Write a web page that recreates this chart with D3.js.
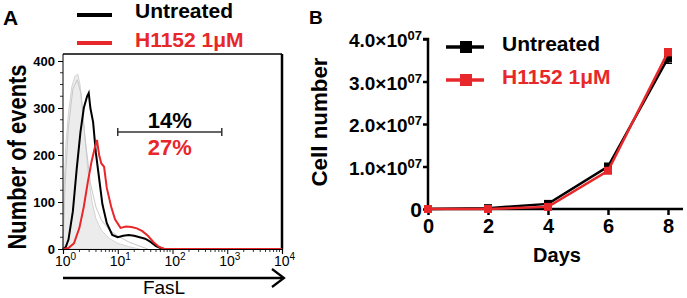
<!DOCTYPE html>
<html>
<head>
<meta charset="utf-8">
<title>FasL and cell number</title>
<script src="https://cdn.jsdelivr.net/npm/d3@7"></script>
<style>
  body { margin: 0; background: #fff; }
  svg { font-family: "Liberation Sans", Arial, sans-serif; font-weight: bold; }
</style>
</head>
<body>
<script>
// ---- panel A data: histogram curves, [log10(FasL), events]
var isoFill = [[0,0],[0.02,130],[0.05,220],[0.1,290],[0.16,345],[0.22,368],[0.27,372],[0.31,350],[0.36,290],[0.42,210],[0.47,150],[0.53,100],[0.6,65],[0.7,40],[0.85,22],[1.0,12],[1.2,5],[1.4,0]];
var isoLine = [[0,0],[0.04,140],[0.1,260],[0.18,340],[0.26,360],[0.33,330],[0.4,240],[0.5,140],[0.6,90],[0.7,62],[0.85,40],[1.0,28],[1.2,15],[1.4,6],[1.55,0]];
var untreatedHist = [[0,0],[0.05,4],[0.1,20],[0.18,80],[0.25,170],[0.32,250],[0.38,300],[0.44,325],[0.47,332],[0.5,300],[0.55,270],[0.6,205],[0.66,150],[0.72,95],[0.8,55],[0.9,30],[1.0,25],[1.1,28],[1.2,30],[1.3,28],[1.4,25],[1.5,22],[1.6,15],[1.7,6],[1.8,1],[1.85,0]];
var h1152Hist = [[0,0],[0.1,2],[0.2,12],[0.3,45],[0.38,90],[0.45,140],[0.52,185],[0.58,215],[0.62,232],[0.66,200],[0.7,182],[0.75,175],[0.8,130],[0.88,90],[0.95,63],[1.05,45],[1.15,48],[1.25,47],[1.35,44],[1.45,38],[1.55,28],[1.65,15],[1.75,5],[1.85,0],[4,0]];
var histYTicks = [0, 100, 200, 300, 400];
var decadeTicks = [0, 1, 2, 3, 4];
var gateRange = [1, 2.9];   // log10 extent of the marker gate
var gatePct = ["14%", "27%"];

// ---- panel B data: cell number by day
var days = [0, 2, 4, 6, 8];
var untreatedCells = [0, 0.02e7, 0.12e7, 1.0e7, 3.55e7];
var untreatedErr = [0, 0, 0.03e7, 0.05e7, 0.12e7];
var h1152Cells = [0, 0, 0.05e7, 0.9e7, 3.69e7];
var h1152Err = [0, 0, 0.02e7, 0.06e7, 0.08e7];
var cellTicks = [0, 1e7, 2e7, 3e7, 4e7];
var cellTickLabels = ["0", "1.0\u00d710", "2.0\u00d710", "3.0\u00d710", "4.0\u00d710"];

var red = "#e8272b";
var svg = d3.select("body").append("svg").attr("width", 687).attr("height", 298);

// ================= Panel A =================
var xA = d3.scaleLinear().domain([0, 4]).range([63, 282]);
var yA = d3.scaleLinear().domain([0, 400]).range([249, 61]);

svg.append("text").attr("x", 3).attr("y", 25).attr("font-size", 21).text("A");

// box top / right
svg.append("line").attr("x1", 63).attr("x2", 282).attr("y1", 54).attr("y2", 54)
  .attr("stroke", "#000").attr("stroke-width", 1.5);
svg.append("line").attr("x1", 282).attr("x2", 282).attr("y1", 54).attr("y2", 249)
  .attr("stroke", "#000").attr("stroke-width", 2.5);

var area = d3.area().x(function(d){ return xA(d[0]); }).y0(yA(0)).y1(function(d){ return yA(d[1]); });
var line = d3.line().x(function(d){ return xA(d[0]); }).y(function(d){ return yA(d[1]); });

svg.append("path").attr("d", area(isoFill)).attr("fill", "#ececec").attr("stroke", "#d4d4d4").attr("stroke-width", 1);
svg.append("path").attr("d", line(isoLine)).attr("fill", "none").attr("stroke", "#c8c8c8").attr("stroke-width", 1);
svg.append("path").attr("d", line(untreatedHist)).attr("fill", "none").attr("stroke", "#000").attr("stroke-width", 2);
svg.append("path").attr("d", line(h1152Hist)).attr("fill", "none").attr("stroke", red).attr("stroke-width", 2);

// y axis
var yAxisA = d3.axisLeft(yA).tickValues(histYTicks).tickSize(5).tickPadding(3);
var gy = svg.append("g").attr("transform", "translate(63,0)").call(yAxisA);
gy.selectAll("text").attr("font-size", 13).attr("font-family", "Liberation Sans, Arial").attr("font-weight", "bold");
gy.select(".domain").attr("d", "M0," + yA(415) + "V" + yA(0));
svg.append("g").selectAll("line").data(d3.range(0, 400, 25).filter(function(v){ return v % 100; }))
  .enter().append("line")
  .attr("x1", 60).attr("x2", 63).attr("y1", function(d){ return yA(d); }).attr("y2", function(d){ return yA(d); })
  .attr("stroke", "#000").attr("stroke-width", 0.8);

// x axis (log decades)
var xAxisA = d3.axisBottom(xA).tickValues(decadeTicks).tickSize(5).tickFormat("");
var gx = svg.append("g").attr("transform", "translate(0,249)").call(xAxisA);
gx.select(".domain").attr("stroke-width", 1.2);
var minors = [];
decadeTicks.slice(0, 4).forEach(function(d){ for (var k = 2; k < 10; k++) minors.push(d + Math.log10(k)); });
gx.selectAll(".minor").data(minors).enter().append("line")
  .attr("x1", function(d){ return xA(d); }).attr("x2", function(d){ return xA(d); })
  .attr("y1", 0).attr("y2", 3).attr("stroke", "#000").attr("stroke-width", 0.8);
var dl = svg.append("g").selectAll("text").data(decadeTicks).enter().append("text")
  .attr("x", function(d){ return xA(d) - 8; }).attr("y", 266)
  .attr("font-size", 14).attr("font-weight", "normal");
dl.append("tspan").text("10");
dl.append("tspan").attr("dy", -6).attr("font-size", 10).text(function(d){ return d; });

// arrow
svg.append("line").attr("x1", 63).attr("x2", 282).attr("y1", 278).attr("y2", 278).attr("stroke", "#000").attr("stroke-width", 2.5);
svg.append("path").attr("d", "M272,269L284,278L272,287").attr("fill", "none").attr("stroke", "#000").attr("stroke-width", 2.2);
svg.append("text").attr("x", 164).attr("y", 294).attr("text-anchor", "middle").attr("font-size", 19).attr("font-weight", "normal").text("FasL");

svg.append("text").attr("transform", "translate(26,157) rotate(-90)").attr("text-anchor", "middle")
  .attr("font-size", 25).attr("textLength", 185).attr("lengthAdjust", "spacingAndGlyphs").text("Number of events");

// gate
var gy0 = 132;
svg.append("line").attr("x1", xA(gateRange[0])).attr("x2", xA(gateRange[1])).attr("y1", gy0).attr("y2", gy0).attr("stroke", "#333").attr("stroke-width", 1.5);
gateRange.forEach(function(v){
  svg.append("line").attr("x1", xA(v)).attr("x2", xA(v)).attr("y1", gy0 - 4).attr("y2", gy0 + 4).attr("stroke", "#333").attr("stroke-width", 1.5);
});
var gMid = (xA(gateRange[0]) + xA(gateRange[1])) / 2;
svg.append("text").attr("x", gMid).attr("y", 128).attr("text-anchor", "middle").attr("font-size", 22).text(gatePct[0]);
svg.append("text").attr("x", gMid).attr("y", 155).attr("text-anchor", "middle").attr("font-size", 22).attr("fill", red).text(gatePct[1]);

// legend A
svg.append("line").attr("x1", 77).attr("x2", 112).attr("y1", 15).attr("y2", 15).attr("stroke", "#000").attr("stroke-width", 4);
svg.append("line").attr("x1", 77).attr("x2", 112).attr("y1", 43).attr("y2", 43).attr("stroke", red).attr("stroke-width", 4);
svg.append("text").attr("x", 135).attr("y", 18).attr("font-size", 21).text("Untreated");
svg.append("text").attr("x", 135).attr("y", 47).attr("font-size", 21).attr("fill", red).text("H1152 1\u03bcM");

// ================= Panel B =================
var xB = d3.scaleLinear().domain([0, 8]).range([428, 668]);
var yB = d3.scaleLinear().domain([0, 4e7]).range([209, 39]);

svg.append("text").attr("x", 309).attr("y", 24).attr("font-size", 19).text("B");

var xAxisB = d3.axisBottom(xB).tickValues(days).tickSize(6).tickPadding(4).tickFormat(d3.format("d"));
var gxB = svg.append("g").attr("transform", "translate(0,209)").call(xAxisB);
gxB.select(".domain").attr("d", "M428,0H683").attr("stroke-width", 2.5);
gxB.selectAll(".tick line").attr("stroke-width", 2.5);
gxB.selectAll("text").attr("font-size", 20).attr("font-family", "Liberation Sans, Arial").attr("font-weight", "bold");

var yAxisB = d3.axisLeft(yB).tickValues(cellTicks).tickSize(5).tickPadding(3).tickFormat("");
var gyB = svg.append("g").attr("transform", "translate(428,0)").call(yAxisB);
gyB.select(".domain").attr("d", "M-5," + yB(4e7) + "H0V" + yB(0)).attr("stroke-width", 2.5);
gyB.selectAll(".tick line").attr("stroke-width", 2.5);
var yl = svg.append("g").selectAll("text").data(cellTicks).enter().append("text")
  .attr("x", 422).attr("y", function(d){ return yB(d) + 8; }).attr("text-anchor", "end")
  .attr("font-size", function(d, i){ return i === 0 ? 21 : 19; });
yl.append("tspan").text(function(d, i){ return cellTickLabels[i]; });
yl.filter(function(d, i){ return i > 0; }).append("tspan").attr("dy", -7).attr("font-size", 13).text("07");

svg.append("text").attr("transform", "translate(327,122) rotate(-90)").attr("text-anchor", "middle")
  .attr("font-size", 22).attr("textLength", 129).attr("lengthAdjust", "spacingAndGlyphs").text("Cell number");
svg.append("text").attr("x", 557).attr("y", 262).attr("text-anchor", "middle").attr("font-size", 20).text("Days");

function series(vals, errs, color) {
  var g = svg.append("g");
  var pts = days.map(function(d, i){ return [d, vals[i], errs[i]]; });
  g.selectAll(".err").data(pts).enter().append("path")
    .attr("d", function(p){
      var x = xB(p[0]), y1 = yB(p[1] + p[2]), y2 = yB(p[1] - p[2]);
      return "M" + (x - 4) + "," + y1 + "H" + (x + 4) + "M" + x + "," + y1 + "V" + y2 + "M" + (x - 4) + "," + y2 + "H" + (x + 4);
    })
    .attr("stroke", color).attr("stroke-width", 1.5).attr("fill", "none");
  g.append("path").attr("d", d3.line().x(function(p){ return xB(p[0]); }).y(function(p){ return yB(p[1]); })(pts))
    .attr("fill", "none").attr("stroke", color).attr("stroke-width", 2.5);
  g.selectAll("rect").data(pts).enter().append("rect")
    .attr("x", function(p){ return xB(p[0]) - 4; }).attr("y", function(p){ return yB(p[1]) - 4; })
    .attr("width", 8).attr("height", 8).attr("fill", color);
}
series(untreatedCells, untreatedErr, "#000");
series(h1152Cells, h1152Err, red);

// legend B
[["Untreated", "#000", 47], ["H1152 1\u03bcM", red, 80]].forEach(function(l){
  svg.append("line").attr("x1", 446).attr("x2", 484).attr("y1", l[2]).attr("y2", l[2]).attr("stroke", l[1]).attr("stroke-width", 3.5);
  svg.append("rect").attr("x", 460).attr("y", l[2] - 6).attr("width", 12).attr("height", 12).attr("fill", l[1]);
  svg.append("text").attr("x", 502).attr("y", l[2] + 4).attr("font-size", 21).attr("fill", l[1]).text(l[0]);
});
</script>
</body>
</html>
